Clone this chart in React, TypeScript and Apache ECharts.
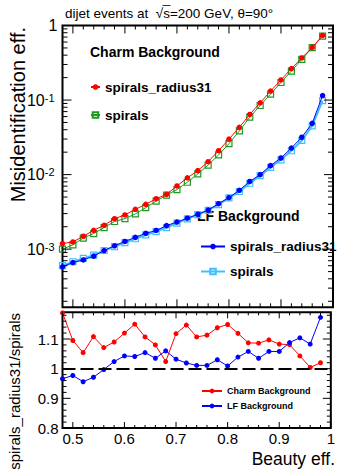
import React, { useEffect, useRef } from 'react';
import * as echarts from 'echarts';

// ---- data ----
const beautyEff = [0.48, 0.5, 0.52, 0.54, 0.56, 0.58, 0.6, 0.62, 0.64, 0.66, 0.68, 0.7, 0.72, 0.74, 0.76, 0.78, 0.8, 0.82, 0.84, 0.86, 0.88, 0.9, 0.92, 0.94, 0.96, 0.98];

const charmRadius31 = [1.19e-3, 1.25e-3, 1.49e-3, 1.79e-3, 2.09e-3, 2.56e-3, 2.88e-3, 3.42e-3, 3.99e-3, 4.75e-3, 5.43e-3, 7.04e-3, 9.06e-3, 1.13e-2, 1.49e-2, 2.09e-2, 2.99e-2, 4.31e-2, 6.41e-2, 9.18e-2, 0.132, 0.186, 0.264, 0.367, 0.507, 0.735];
const charmSpirals = [1.0e-3, 1.14e-3, 1.41e-3, 1.62e-3, 1.95e-3, 2.35e-3, 2.57e-3, 2.97e-3, 3.6e-3, 4.4e-3, 5.3e-3, 6.3e-3, 7.9e-3, 1.02e-2, 1.34e-2, 1.84e-2, 2.6e-2, 3.85e-2, 5.9e-2, 8.45e-2, 0.12, 0.172, 0.244, 0.352, 0.505, 0.72];
const lfRadius31 = [5.8e-4, 6.62e-4, 7.17e-4, 8.06e-4, 9.57e-4, 1.11e-3, 1.27e-3, 1.44e-3, 1.63e-3, 1.78e-3, 2.07e-3, 2.31e-3, 2.6e-3, 2.93e-3, 3.35e-3, 4.07e-3, 4.92e-3, 6.16e-3, 8.1e-3, 1.0e-2, 1.32e-2, 1.67e-2, 2.27e-2, 3.17e-2, 4.87e-2, 0.115];
const lfSpirals = [6.0e-4, 6.78e-4, 7.5e-4, 8.3e-4, 9.6e-4, 1.08e-3, 1.22e-3, 1.38e-3, 1.55e-3, 1.72e-3, 1.95e-3, 2.24e-3, 2.55e-3, 2.9e-3, 3.31e-3, 3.95e-3, 4.88e-3, 5.93e-3, 7.66e-3, 9.7e-3, 1.25e-2, 1.58e-2, 2.09e-2, 2.87e-2, 4.5e-2, 9.8e-2];

const charmRatio = [1.188, 1.095, 1.054, 1.108, 1.071, 1.09, 1.12, 1.15, 1.107, 1.08, 1.024, 1.118, 1.147, 1.107, 1.113, 1.138, 1.149, 1.119, 1.087, 1.086, 1.097, 1.083, 1.081, 1.043, 1.004, 1.02];
const lfRatio = [0.966, 0.977, 0.956, 0.971, 0.997, 1.024, 1.043, 1.041, 1.054, 1.035, 1.06, 1.032, 1.019, 1.011, 1.011, 1.03, 1.009, 1.039, 1.058, 1.035, 1.058, 1.058, 1.088, 1.104, 1.083, 1.173];

// tick positions (axis values)
const xMajorTicks = [0.5, 0.6, 0.7, 0.8, 0.9, 1.0];
const xMinorTicks = [0.48, 0.52, 0.54, 0.56, 0.58, 0.62, 0.64, 0.66, 0.68, 0.72, 0.74, 0.76, 0.78, 0.82, 0.84, 0.86, 0.88, 0.92, 0.94, 0.96, 0.98];
const logMajorTicks = [1e-3, 1e-2, 1e-1, 1];
const logMinorMultipliers = [2, 3, 4, 5, 6, 7, 8, 9];
const logMinorDecades = [1e-4, 1e-3, 1e-2, 1e-1];
const ratioMajorTicks = [0.8, 0.9, 1.0, 1.1];
const ratioMinorTicks = [0.82, 0.84, 0.86, 0.88, 0.92, 0.94, 0.96, 0.98, 1.02, 1.04, 1.06, 1.08, 1.12, 1.14, 1.16, 1.18];

const FONT = '"Liberation Sans", Arial, Helvetica, sans-serif';
const RED = '#ff0000';
const GREEN = '#1f9a1f';
const BLUE = '#0000ff';
const CYAN = '#3fbfff';

const zip = (xs: number[], ys: number[]) => xs.map((x, i) => [x, ys[i]]);

function tickSeries(gi: number, xMaj: number[], xMin: number[], yMaj: number[], yMin: number[], refY: number, L: { xM: number; xm: number; yM: number; ym: number }) {
  return {
    type: 'custom',
    xAxisIndex: gi,
    yAxisIndex: gi,
    silent: true,
    clip: false,
    z: 10,
    data: [[0.7, refY]],
    renderItem: (params: any, api: any) => {
      const cs = params.coordSys;
      const top = cs.y, bottom = cs.y + cs.height, left = cs.x, right = cs.x + cs.width;
      const ch: any[] = [];
      const seg = (x1: number, y1: number, x2: number, y2: number) =>
        ch.push({ type: 'line', shape: { x1, y1, x2, y2 }, style: { stroke: '#000', lineWidth: 1 } });
      const xt = (v: number, len: number) => {
        const px = api.coord([v, refY])[0];
        seg(px, bottom, px, bottom - len);
        seg(px, top, px, top + len);
      };
      const yt = (v: number, len: number) => {
        const py = api.coord([0.7, v])[1];
        seg(left, py, left + len, py);
        seg(right, py, right - len, py);
      };
      xMaj.forEach((v) => xt(v, L.xM));
      xMin.forEach((v) => xt(v, L.xm));
      yMaj.forEach((v) => yt(v, L.yM));
      yMin.forEach((v) => yt(v, L.ym));
      return { type: 'group', children: ch };
    },
  };
}

const logMinorTicks: number[] = [];
logMinorDecades.forEach((d) => logMinorMultipliers.forEach((m) => {
  const v = d * m;
  if (v > 1.66e-4 && v < 1) logMinorTicks.push(v);
}));

function lineSeries(name: string, gi: number, ys: number[], color: string, symbol: string, filled: boolean, lineWidth: number, z: number) {
  return {
    type: 'line',
    name,
    xAxisIndex: gi,
    yAxisIndex: gi,
    data: zip(beautyEff, ys),
    symbol,
    symbolSize: filled ? 5.5 : 6,
    showSymbol: true,
    showAllSymbol: true,
    z,
    lineStyle: { color, width: lineWidth },
    itemStyle: filled
      ? { color, borderColor: color, borderWidth: 0 }
      : { color: 'rgba(255,255,255,0)', borderColor: color, borderWidth: 1.2 },
    emphasis: { disabled: true },
  };
}

const legendText = (name: string) => {
  const i = name.indexOf(': ');
  return i >= 0 ? name.slice(i + 2) : name;
};

const option: any = {
  animation: false,
  backgroundColor: '#fff',
  grid: [
    { left: 62.5, right: 5, top: 25.5, height: 281.8, show: true, borderColor: '#000', borderWidth: 2, backgroundColor: 'transparent' },
    { left: 62.5, right: 5, top: 312.3, height: 115.7, show: true, borderColor: '#000', borderWidth: 2, backgroundColor: 'transparent' },
  ],
  xAxis: [
    { gridIndex: 0, type: 'value', min: 0.48, max: 1.0, axisLine: { show: false }, axisTick: { show: false }, splitLine: { show: false }, axisLabel: { show: false } },
    {
      gridIndex: 1, type: 'value', min: 0.48, max: 1.0,
      axisLine: { show: false }, axisTick: { show: false }, splitLine: { show: false },
      axisLabel: {
        color: '#000', fontSize: 15, fontFamily: FONT, margin: 3, hideOverlap: false,
        formatter: (v: number) => (Math.abs(v * 10 - Math.round(v * 10)) < 1e-6 ? String(Math.round(v * 10) / 10) : ''),
      },
    },
  ],
  yAxis: [
    {
      gridIndex: 0, type: 'log', logBase: 10, min: 1.66e-4, max: 1,
      axisLine: { show: false }, axisTick: { show: false }, splitLine: { show: false },
      axisLabel: {
        color: '#000', margin: 5,
        formatter: (v: number) => {
          const e = Math.log10(v);
          const r = Math.round(e);
          if (Math.abs(e - r) > 1e-6) return '';
          return r === 0 ? '{n|1}' : `{n|10}{s|${r}}`;
        },
        rich: {
          n: { fontSize: 16, fontFamily: FONT, color: '#000' },
          s: { fontSize: 11, fontFamily: FONT, color: '#000', verticalAlign: 'top', padding: [0, 3, 0, 0] },
        },
      },
    },
    {
      gridIndex: 1, type: 'value', min: 0.8, max: 1.19,
      axisLine: { show: false }, axisTick: { show: false }, splitLine: { show: false },
      axisLabel: {
        color: '#000', fontSize: 15, fontFamily: FONT, margin: 4,
        formatter: (v: number) => (Math.abs(v * 10 - Math.round(v * 10)) < 1e-6 ? String(Math.round(v * 10) / 10) : ''),
      },
    },
  ],
  legend: [
    {
      data: ['Charm: spirals_radius31', 'Charm: spirals'], orient: 'vertical', left: 85, top: 75,
      itemWidth: 9, itemHeight: 7, itemGap: 14, selectedMode: false, formatter: legendText,
      textStyle: { fontSize: 13.5, fontWeight: 'bold', fontFamily: FONT, color: '#000' },
    },
    {
      data: ['LF: spirals_radius31', 'LF: spirals'], orient: 'vertical', left: 195, top: 234.5,
      itemWidth: 24, itemHeight: 7, itemGap: 11, selectedMode: false, formatter: legendText,
      textStyle: { fontSize: 13.5, fontWeight: 'bold', fontFamily: FONT, color: '#000' },
    },
    {
      data: ['Charm Background', 'LF Background'], orient: 'vertical', left: 196, top: 381.5,
      itemWidth: 20, itemHeight: 6, itemGap: 6, selectedMode: false,
      textStyle: { fontSize: 9, fontWeight: 'bold', fontFamily: FONT, color: '#000' },
    },
  ],
  series: [
    tickSeries(0, xMajorTicks, xMinorTicks, logMajorTicks, logMinorTicks, 0.01, { xM: 8, xm: 4, yM: 9, ym: 5 }),
    tickSeries(1, xMajorTicks, xMinorTicks, ratioMajorTicks, ratioMinorTicks, 1.0, { xM: 6, xm: 3, yM: 8, ym: 4 }),
    lineSeries('Charm: spirals', 0, charmSpirals, GREEN, 'rect', false, 1, 3),
    lineSeries('Charm: spirals_radius31', 0, charmRadius31, RED, 'circle', true, 1, 4),
    lineSeries('LF: spirals', 0, lfSpirals, CYAN, 'rect', false, 2, 3),
    lineSeries('LF: spirals_radius31', 0, lfRadius31, BLUE, 'circle', true, 1, 4),
    {
      type: 'line', name: 'unity', xAxisIndex: 1, yAxisIndex: 1, data: [], z: 2,
      markLine: {
        silent: true, symbol: ['none', 'none'], label: { show: false },
        lineStyle: { color: '#000', type: [13, 5], width: 2 },
        data: [{ yAxis: 1 }],
      },
    },
    {
      type: 'line', name: 'Charm Background', xAxisIndex: 1, yAxisIndex: 1, data: zip(beautyEff, charmRatio),
      symbol: 'circle', symbolSize: 5, showAllSymbol: true, z: 4,
      lineStyle: { color: RED, width: 1 }, itemStyle: { color: RED }, emphasis: { disabled: true },
    },
    {
      type: 'line', name: 'LF Background', xAxisIndex: 1, yAxisIndex: 1, data: zip(beautyEff, lfRatio),
      symbol: 'circle', symbolSize: 5, showAllSymbol: true, z: 4,
      lineStyle: { color: BLUE, width: 1 }, itemStyle: { color: BLUE }, emphasis: { disabled: true },
    },
  ],
  graphic: [
    { type: 'text', x: 65, y: 13, silent: true, style: { text: 'dijet events at  \u221As=200 GeV, \u03B8=90\u00B0', font: `13.5px ${FONT}`, fill: '#000', align: 'left', verticalAlign: 'middle' } },
    { type: 'line', silent: true, shape: { x1: 162.5, y1: 5.5, x2: 170.5, y2: 5.5 }, style: { stroke: '#000', lineWidth: 0.8 } },
    { type: 'text', x: 18, y: 27, rotation: Math.PI / 2, silent: true, style: { text: 'Misidentification eff.', font: `20px ${FONT}`, fill: '#000', align: 'right', verticalAlign: 'middle' } },
    { type: 'text', x: 14, y: 313, rotation: Math.PI / 2, silent: true, style: { text: 'spirals_radius31/spirals', font: `15px ${FONT}`, fill: '#000', align: 'right', verticalAlign: 'middle' } },
    { type: 'text', x: 335, y: 459, silent: true, style: { text: 'Beauty eff.', font: `17.5px ${FONT}`, fill: '#000', align: 'right', verticalAlign: 'middle' } },
    { type: 'text', x: 90, y: 52, silent: true, style: { text: 'Charm Background', font: `bold 14px ${FONT}`, fill: '#000', align: 'left', verticalAlign: 'middle' } },
    { type: 'text', x: 197, y: 216, silent: true, style: { text: 'LF Background', font: `bold 14px ${FONT}`, fill: '#000', align: 'left', verticalAlign: 'middle' } },
  ],
};

export default function App() {
  const ref = useRef<HTMLDivElement>(null);
  useEffect(() => {
    if (!ref.current) return;
    const chart = echarts.init(ref.current, null, { renderer: 'svg' });
    chart.setOption(option);
    return () => chart.dispose();
  }, []);
  return <div ref={ref} style={{ position: 'fixed', left: 0, top: 0, width: 338, height: 472, background: '#fff' }} />;
}
